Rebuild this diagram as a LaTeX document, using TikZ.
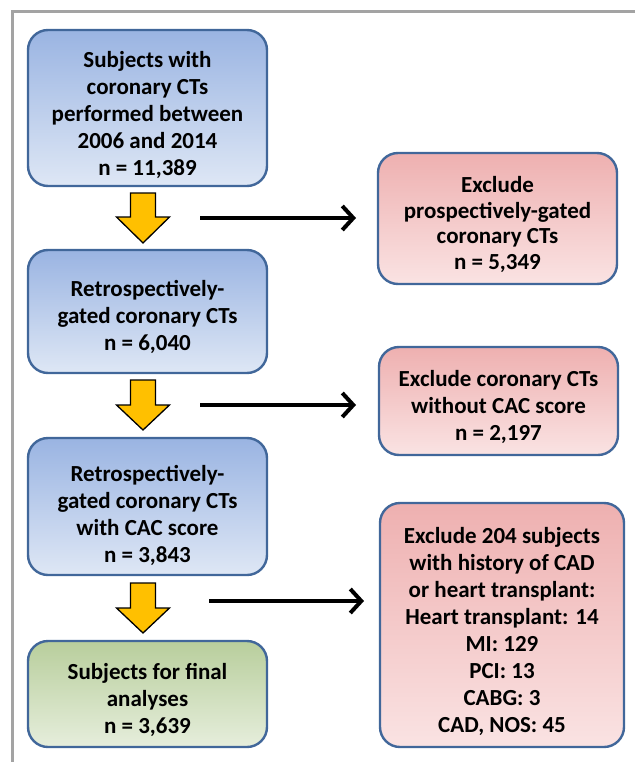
\documentclass[tikz,border=0pt]{standalone}
\usepackage{fontspec}
\setmainfont{Carlito}
\usetikzlibrary{arrows.meta}
\definecolor{frameg}{HTML}{A3A3A3}
\definecolor{bordb}{HTML}{41679A}
\definecolor{bluetop}{HTML}{9AB4E2}
\definecolor{bluebot}{HTML}{DEE7F5}
\definecolor{redtop}{HTML}{EEB0B0}
\definecolor{redbot}{HTML}{FAE3E3}
\definecolor{greentop}{HTML}{B8CE9C}
\definecolor{greenbot}{HTML}{E6EEDC}
\definecolor{arrowy}{HTML}{FFC000}
\begin{document}
\begin{tikzpicture}[x=1pt,y=-1pt,
  box/.style={draw=bordb, line width=2.4pt, rounded corners=20pt,
    minimum width=239pt, inner sep=0pt},
  txt/.style={align=center, inner sep=0pt, yshift=-6pt,
    font=\bfseries\fontsize{23}{27}\selectfont},
  bluebox/.style={box, top color=bluetop, bottom color=bluebot},
  redbox/.style={box, top color=redtop, bottom color=redbot},
  greenbox/.style={box, top color=greentop, bottom color=greenbot},
  downarrow/.style={fill=arrowy, draw=black, line width=1.3pt, line join=miter},
  exarrow/.style={line width=4pt, -{Straight Barb[length=11pt,width=24pt,line width=4pt]}},
  frameline/.style={draw=frameg, line width=3pt}]
\useasboundingbox (0,0) rectangle (635,762);
% frame
\draw[frameline] (12,762) -- (12,12) -- (635,12);
% left column
\node[bluebox, minimum height=156pt,
  label={[txt, yshift=-1pt]center:{Subjects with\\coronary CTs\\performed between\\2006 and 2014\\n = 11,389}}]
  (b1) at (147.5,108) {};
\node[bluebox, minimum height=123pt,
  label={[txt, yshift=1pt]center:{Retrospectively-\\gated coronary CTs\\n = 6,040}}]
  (b2) at (147.5,311.5) {};
\node[bluebox, minimum height=137pt,
  label={[txt, yshift=-3pt]center:{Retrospectively-\\gated coronary CTs\\with CAC score\\n = 3,843}}]
  (b3) at (147.5,506.5) {};
\node[greenbox, minimum height=106pt,
  label={[txt]center:{Subjects for final\\analyses\\n = 3,639}}]
  (b4) at (147.5,694) {};
% right column
\node[redbox, minimum height=131pt,
  label={[txt, font=\bfseries\fontsize{23}{25.5}\selectfont]center:{Exclude\\prospectively-gated\\coronary CTs\\n = 5,349}}]
  (r1) at (497.5,218.5) {};
\node[redbox, minimum height=108pt,
  label={[txt]center:{Exclude coronary CTs\\without CAC score\\n = 2,197}}]
  (r2) at (498.5,401) {};
\node[redbox, minimum width=244pt, minimum height=244pt,
  label={[txt]center:{Exclude 204 subjects\\with history of CAD\\or heart transplant:\\Heart transplant: 14\\MI: 129\\PCI: 13\\CABG: 3\\CAD, NOS: 45}}]
  (r3) at (502,625) {};
% yellow down arrows
\foreach \t/\b/\p in {193/217/243, 380/405/430, 583/608/633}{
  \draw[downarrow] (130.5,\t) -- (155.5,\t) -- (155.5,\b) -- (169.5,\b) -- (143,\p)
    -- (116.5,\b) -- (130.5,\b) -- cycle;
}
% exclusion arrows
\coordinate (s1) at (200,218); \coordinate (e1) at (356,218);
\coordinate (s2) at (200,405); \coordinate (e2) at (356,405);
\coordinate (s3) at (209,601); \coordinate (e3) at (364,601);
\draw[exarrow] (s1) -- (e1);
\draw[exarrow] (s2) -- (e2);
\draw[exarrow] (s3) -- (e3);
\end{tikzpicture}
\end{document}
